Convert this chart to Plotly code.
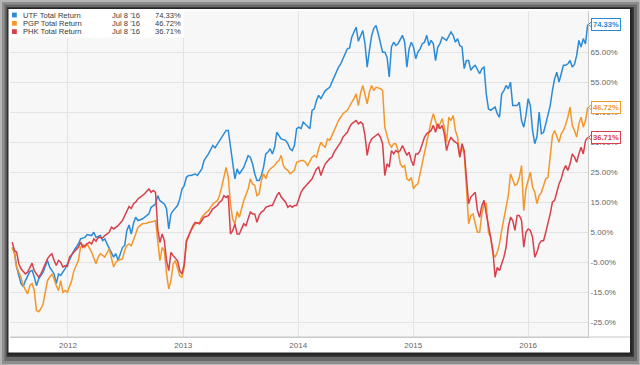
import numpy as np
import pandas as pd
import plotly.graph_objects as go

START = pd.Timestamp("2011-07-08")   # weekly data, week 0

utf_weeks = [0,1,2,4,5,6,8,9,10,11,12,14,16,17,19,20,21,22,24,25,27,28,30,31,33,34,36,37,38,40,41,42,43,45,46,47,48,50,51,52,53,54,55,56,57,59,60,62,63,65,66,67,69,70,71,72,73,75,76,77,78,79,80,81,83,84,86,87,89,90,91,92,94,95,97,98,99,100,101,102,103,105,106,107,108,109,110,111,112,113,114,115,116,117,118,119,120,121,122,124,125,126,127,128,129,130,131,132,134,135,136,137,138,139,140,141,142,144,145,146,147,148,149,150,151,152,153,154,155,156,157,158,159,160,161,162,163,164,165,166,167,168,169,170,171,172,173,174,175,176,177,178,179,180,181,182,183,184,185,186,187,188,189,190,191,192,193,194,195,197,198,199,200,201,202,203,204,205,206,207,208,209,210,211,212,213,214,215,216,217,219,220,221,222,223,224,225,226,227,228,229,230,231,232,233,234,235,236,237,238,239,240,241,242,243,244,245,246,247,248,249,250,251,252,253,254,255,256,257,258,259,260,261]
utf_values = [0,-1.5,-6.5,-12,-13,-11,-8,-7.6,-9.7,-12.7,-10.4,-8.2,-4.3,-6.5,-8.8,-12,-8.8,-9.3,-7,-5.4,-2,-1,1.2,2.9,3.4,4.3,4,5.1,3.4,4,2.3,2.9,1.2,-1.5,-3.2,-2,-4.3,0,0.7,5.7,7.5,4.5,8,10.1,9,9.5,10.1,11.2,13.4,14.5,17.3,15.6,14.5,12.9,6.2,11.2,12.3,14,16.2,19.5,20.6,23.4,24,24,24.5,24,26.2,29,31.2,32.9,34,33.2,35.6,36.7,39,39,33.4,27.9,22.9,26.2,24.5,26.7,29,30.6,30.1,27.9,24.6,22.3,22.3,24,26.8,31.2,31.8,32.9,31.2,33.4,38.4,37.3,36.2,35.7,34.6,32.9,32.3,34,39.6,40.1,39.6,41.8,40.1,39.6,45.7,46.2,49,50.7,49.6,51.2,52.3,53.4,55.1,56.8,58.4,60.1,61.2,62.9,65.1,66.2,66.5,70.1,71.8,73.4,68.7,70.7,72.3,67.9,60.1,65.7,70.5,73,74,71.2,67.9,65.1,65.1,63.4,56.8,66.8,68.4,67.3,67.9,69.6,70.7,68.4,60.1,66.2,68.4,66.8,62.9,65.1,66.2,67.9,68.4,70.7,67.3,69,67.9,62.3,66.8,67.9,70.1,69,70.7,71.8,70.7,68.4,69.6,67.3,66.8,59.6,62.3,62.3,59,60.1,60.7,59,57.9,59.6,60.1,51.2,46.2,45.7,46.8,44.6,43.4,51.2,52.3,54,52.9,55.1,47.3,47.3,47.3,48.4,42.3,40.1,44,49.6,47.3,39,34.6,37,45.1,37.9,38.4,41.2,44.6,47.3,52.3,56.2,58.4,55.1,57.9,60.7,60.7,61.2,62.3,60.1,61,64,69,66.8,69.6,67.8,74.33]

pgp_weeks = [0,1,2,4,5,7,8,9,10,11,12,13,14,15,16,18,19,20,21,22,23,24,25,27,28,30,31,32,33,34,36,38,39,40,42,44,45,46,47,48,50,51,52,53,54,55,56,57,58,59,61,62,64,65,66,67,68,69,70,71,72,73,74,75,76,77,78,79,80,81,82,83,85,86,88,89,90,91,93,94,95,96,97,98,99,100,101,102,103,105,106,107,108,109,110,111,112,113,114,115,116,117,119,120,121,122,123,124,125,126,127,128,129,131,132,133,134,136,137,138,139,140,141,142,143,144,145,146,147,148,149,150,152,153,154,155,156,157,158,159,160,161,162,163,164,165,166,167,168,169,170,171,172,173,174,175,176,177,178,179,180,181,182,183,184,185,186,187,188,189,190,191,192,193,194,195,196,197,198,199,200,201,202,203,204,205,206,207,208,209,210,211,212,213,214,215,216,217,218,219,220,221,222,223,224,225,226,227,228,229,230,231,232,233,234,235,236,237,238,239,240,241,242,243,244,245,246,247,248,249,250,251,252,253,254,255,256,257,258,259,260,261]
pgp_values = [0,-2,-6.5,-10,-12.7,-15.4,-12.7,-12,-14.3,-21,-21.4,-20.4,-18.8,-15.4,-11,-8.8,-10.4,-12.7,-14.3,-11,-14.9,-14.3,-14.9,-11,-7.7,-4.3,0.1,1,0,1.2,-1.5,-5.4,-3.2,-2,-3.2,-0.4,-3.2,-6.5,-4.9,-4.3,-3.8,-1,0.7,1.2,0.6,2.3,4.5,6.7,7.3,7.9,8.1,8.4,8.7,9,2.3,-4.4,0,-1,-8.8,-13.8,-11,-5.5,-4.4,-6.6,-9.4,-9.9,-6.6,1.7,4,5.6,6.7,7.9,8.4,10.1,11.7,12.3,13.4,14.5,15.6,17.3,20.1,23.4,26.7,23.4,14.5,9.5,7.9,12,10.1,15.6,17.9,19.5,22.9,21.2,20.7,17.3,17.9,22.3,24.6,22.9,25.1,26.2,27.3,28.4,29,30.7,27.3,26.2,25.7,24.6,25.1,25.7,28.4,29,29,28.4,27.3,30.1,30.7,30.1,32.9,35.1,34,33.4,36.2,35.7,37.3,39,40.7,42.3,43.4,44.6,45.7,47.3,48.4,49.6,51.2,47.3,51.5,54,51.2,47.9,51.8,54,52.3,53.4,53.2,52.9,52.3,40,37.3,34.6,33.4,34.6,34.6,32.3,27.9,26.8,27.3,22.9,22.3,23.4,19.6,20.7,21.2,24.6,29,32.3,35.7,38.4,42,44.6,42.3,39.6,41.2,42.9,40.1,35.1,43.4,42.3,44,39,36.8,30.1,33.4,31.2,20.1,7.9,10.7,11.2,8,5.1,5.1,11.2,14.6,14.6,5,3.4,-2.1,-3.2,-1.6,1.2,5.7,9.6,12.9,17.3,24.6,22.9,20.7,21.2,23.4,27.3,12.3,19.6,22.3,25.1,20.1,18.4,14.6,17.3,18.4,20.7,22.9,23.4,30.1,37.3,39,36.8,35.1,37.9,39,41,43.4,46.8,40.7,39,36.8,41.2,43.4,40.1,42.3,46.72]

phk_weeks = [0,1,2,3,4,5,6,7,8,9,10,12,13,14,16,17,18,19,20,21,22,23,24,25,26,28,30,31,32,33,35,36,37,38,39,41,42,44,45,46,48,50,52,53,54,55,56,57,59,60,62,63,64,65,66,67,68,69,70,71,72,73,75,76,77,78,79,80,81,82,83,85,86,87,89,90,91,93,94,95,96,97,98,99,100,101,102,103,105,106,107,108,109,110,111,112,113,114,115,117,118,119,120,121,122,124,125,126,127,128,129,130,131,132,134,135,136,137,138,139,140,141,142,144,145,146,147,148,149,150,152,153,154,155,156,157,158,159,160,161,162,163,164,165,166,167,168,169,170,171,172,173,174,175,176,177,178,179,180,181,182,183,184,185,186,187,188,189,190,191,192,193,194,195,196,197,198,199,200,202,203,204,205,206,207,208,209,210,211,212,213,214,215,216,217,218,219,220,221,222,223,224,225,226,227,228,229,230,231,232,233,234,235,236,237,238,239,240,241,242,243,244,245,246,247,248,249,250,251,252,253,254,255,256,257,258,259,260,261]
phk_values = [1.8,-1,-1.5,-5.4,-7.1,-8,-8.8,-8.2,-6.5,-5.2,-7.7,-9.9,-8.8,-7.1,-3.8,-2.7,-2.1,-4.3,-6,-4.3,-4.9,-6.5,-6,-6.3,-3.2,-1.5,0.1,1.8,0.1,0.7,1.8,1.2,2.9,2.1,3.4,3.2,4,5.1,6.8,6.2,7.3,9,11.8,13.7,13,14.6,15.1,16.2,17.3,17.9,19.5,18.4,19,18.4,6,1.7,4.5,2.3,-4.4,-7.7,-1.6,-2.7,-4.4,-7.7,-8.8,-5.5,2.3,4,6.2,7.3,8.4,7.9,9,10.1,10.6,11.7,12.9,14,15.1,15.6,17.3,16.7,17.3,4.5,5.6,7.9,4.5,4.5,7.9,7.3,9.5,11.8,11.2,11.2,8.4,10.7,11.8,12.3,13.4,14,14,15.7,17.3,18.4,16.8,15.1,13.4,14,13.4,14,14,16.2,18.4,19.6,21.2,22.3,22.9,24.6,26.2,26.8,24,26.2,27.9,29.6,30.1,31.8,32.9,34,35.1,36.8,38.4,40.1,41.2,41.8,42.3,41.2,41.8,41.2,37.3,30.7,34.6,36.2,36.8,37.3,37.9,36.8,34.6,24,27.9,26.8,32.3,31.2,32.3,31.8,32.3,34,32.3,30.7,31.8,29,27.3,31.2,31.2,32.3,34.6,36.8,37.9,38.4,39,40.7,38.4,41.2,39.6,40.7,37.9,32.3,35.1,36.8,35.7,34.6,30.1,34.6,32.3,23.4,14.6,16.8,17.5,18.4,12.3,10.1,14,15.7,11.2,6.5,3.4,-1,-9.9,-6.6,-7.7,-5.4,-3.2,0.1,6.8,10.1,9,5.7,10.7,10.7,9,0.1,5.1,6.2,5.7,3.4,-3.2,-1.6,1.2,2.3,2.3,5.1,7.9,11.2,15.1,15.7,18.4,21.2,22.9,25.7,27.3,25.7,27.9,31.2,30.1,28.4,31.2,33.4,31.2,35.5,36.71]

names = ["UTF Total Return", "PGP Total Return", "PHK Total Return"]
colors = ["#2b8bd6", "#f3972b", "#d7404c"]
y_tickvals = [65, 55, 45, 35, 25, 15, 5, -5, -15, -25]
y_ticktext = ["65.00%", "55.00%", "45.00%", "35.00%", "25.00%", "15.00%", "5.00%", "-5.00%", "-15.0%", "-25.0%"]
x_tickvals = ["2012-01-01", "2013-01-01", "2014-01-01", "2015-01-01", "2016-01-01"]
x_ticktext = ["2012", "2013", "2014", "2015", "2016"]

series = [(utf_weeks, utf_values), (pgp_weeks, pgp_values), (phk_weeks, phk_values)]

W, H = 640, 365
L, R, T, B = 10, 52, 11, 28
PW, PH = W - L - R, H - T - B
Y_RANGE = [-29.8, 78.8]


def fx(px):
    return (px - L) / PW


def fy(py):
    return (H - B - py) / PH


FONT = "Liberation Sans, Arial, sans-serif"

fig = go.Figure()
for (wk, vals), name, col in zip(series, names, colors):
    dates = START + pd.to_timedelta(np.array(wk) * 7, unit="D")
    fig.add_trace(go.Scatter(x=dates, y=vals, mode="lines", name=name,
                             line=dict(color=col, width=1.5), hoverinfo="skip"))

shapes = []


def rect(x0, y0, x1, y1, fill, layer="below"):
    shapes.append(dict(type="rect", xref="paper", yref="paper",
                       x0=fx(x0), x1=fx(x1), y0=fy(y1), y1=fy(y0),
                       fillcolor=fill, line=dict(width=0), layer=layer))


# framed card with shadow
rect(2, 2, 639, 364, "#8e8e8e")
rect(4.5, 4.5, 637, 361, "#6a6a6a")
rect(6.5, 7, 634, 357, "#3a3a3a")
rect(7.5, 8, 632.5, 355.5, "#262626")
rect(8.5, 9, 630, 352.5, "#ffffff")
rect(L, T, W - R, H - B, "#f7f7f7")
# x axis baseline extending under the label column
shapes.append(dict(type="line", xref="paper", yref="paper", x0=0, x1=fx(630),
                   y0=0, y1=0, line=dict(color="#c9c9c9", width=1), layer="above"))
# legend box
rect(9.5, 10, 184, 37.5, "#ffffff", layer="above")
row_y = [15, 23.3, 31.6]
for ry, col in zip(row_y, colors):
    rect(12, ry - 2.4, 16.8, ry + 2.4, col, layer="above")

# small pointers of the end-value flags
unit_per_px = (Y_RANGE[1] - Y_RANGE[0]) / PH
for (wk, vals), col in zip(series, colors):
    v = vals[-1]
    xa, xb = 1 + 0.5 / PW, 1 + 4.5 / PW
    dy = 3.5 * unit_per_px
    shapes.append(dict(type="path", xref="paper", yref="y",
                       path=f"M {xa} {v} L {xb} {v + dy} L {xb} {v - dy} Z",
                       fillcolor="#ffffff", line=dict(color=col, width=1), layer="above"))

annotations = []
last_date = START + pd.Timedelta(days=7 * utf_weeks[-1])
date_txt = f"{last_date:%b} {last_date.day} '{last_date:%y}"
for ry, name, (wk, vals) in zip(row_y, names, series):
    common = dict(xref="paper", yref="paper", y=fy(ry), yanchor="middle",
                  showarrow=False, font=dict(family=FONT, size=7.6, color="#3a3a3a"))
    annotations.append(dict(x=fx(20.5), xanchor="left", text=name, **common))
    annotations.append(dict(x=fx(110), xanchor="left", text=date_txt, **common))
    annotations.append(dict(x=fx(182.5), xanchor="right", text=f"{vals[-1]:.2f}%", **common))

# end-value flags on the right axis
for (wk, vals), col in zip(series, colors):
    annotations.append(dict(xref="paper", yref="y", x=1, y=vals[-1], xanchor="left",
                            yanchor="middle", xshift=3, showarrow=False,
                            text=f"<b>{vals[-1]:.2f}%</b>",
                            font=dict(family=FONT, size=7.6, color=col),
                            bgcolor="#ffffff", bordercolor=col, borderwidth=1, borderpad=1))

fig.update_layout(
    width=W, height=H,
    margin=dict(l=L, r=R, t=T, b=B, pad=0),
    paper_bgcolor="#b5b5b5",
    plot_bgcolor="#f7f7f7",
    showlegend=False,
    hovermode=False,
    shapes=shapes,
    annotations=annotations,
    font=dict(family=FONT, size=8, color="#666666"),
    xaxis=dict(type="date", range=["2011-07-01", "2016-07-09"],
               tickvals=x_tickvals, ticktext=x_ticktext,
               showgrid=True, gridcolor="#e3e3e3", gridwidth=1,
               showline=True, linecolor="#c9c9c9", linewidth=1,
               ticks="", zeroline=False,
               tickfont=dict(family=FONT, size=8, color="#666666")),
    yaxis=dict(side="right", range=Y_RANGE, autorange=False,
               tickvals=y_tickvals, ticktext=y_ticktext,
               showgrid=True, gridcolor="#e3e3e3", gridwidth=1,
               showline=True, linecolor="#c9c9c9", linewidth=1,
               ticks="", zeroline=False,
               tickfont=dict(family=FONT, size=8, color="#666666")),
)

fig.write_html("out.html",
               config={"displayModeBar": False, "staticPlot": True},
               post_script="document.body.style.margin='0';document.body.style.padding='0';"
                           "document.body.style.overflow='hidden';")
